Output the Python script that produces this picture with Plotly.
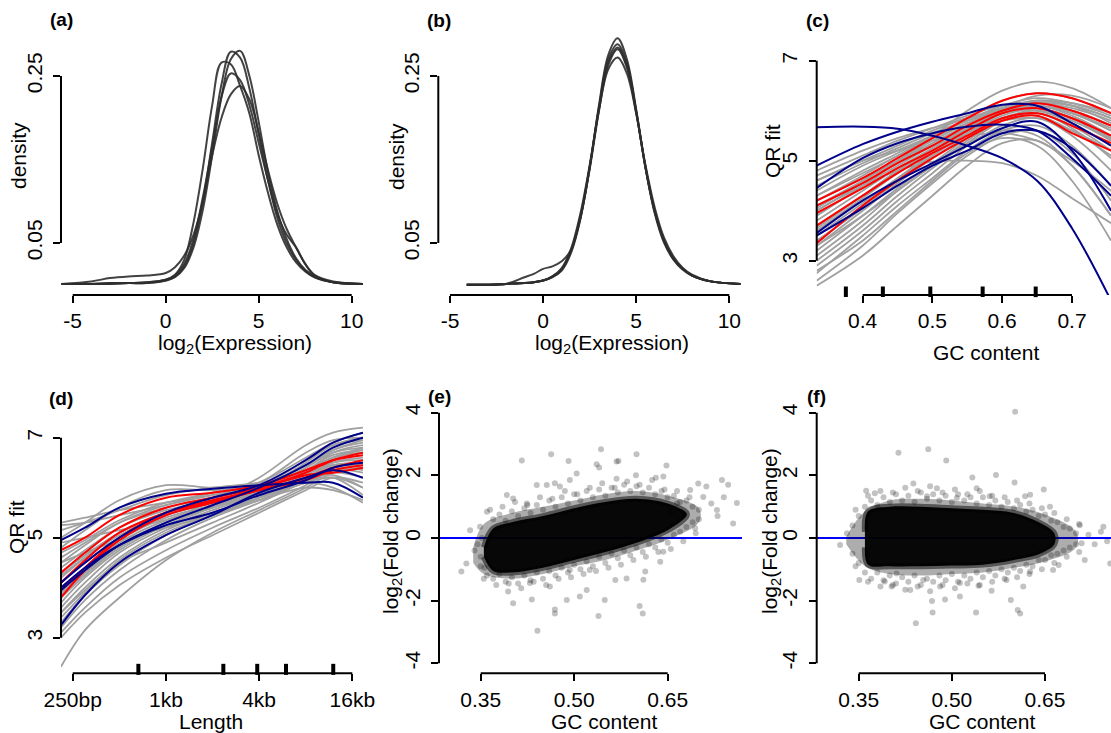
import plotly.graph_objects as go

W, H = 1111, 733
FONT = "Liberation Sans, Arial, Helvetica, sans-serif"


def fx(p):
    return p / W


def fy(p):
    return 1 - p / H


# ---------------- data: (a) raw densities ----------------
expr_x_a = [-5.6, -4, -3, -2, -1, 0, 0.5, 1, 1.5, 2, 2.5, 3, 3.5, 4, 4.5, 5, 5.5, 6, 6.5, 7, 7.5, 8, 9, 10.6]
dens_a = [
    [0.001, 0.001, 0.001, 0.002, 0.002, 0.005, 0.010, 0.022, 0.050, 0.100, 0.170, 0.240, 0.279, 0.272, 0.235, 0.180, 0.125, 0.080, 0.050, 0.030, 0.017, 0.009, 0.003, 0.001],
    [0.001, 0.001, 0.001, 0.002, 0.002, 0.005, 0.009, 0.020, 0.045, 0.090, 0.155, 0.225, 0.270, 0.280, 0.250, 0.195, 0.135, 0.088, 0.055, 0.032, 0.018, 0.010, 0.003, 0.001],
    [0.001, 0.001, 0.002, 0.002, 0.003, 0.006, 0.012, 0.030, 0.075, 0.140, 0.215, 0.266, 0.264, 0.238, 0.205, 0.155, 0.110, 0.072, 0.045, 0.027, 0.016, 0.009, 0.003, 0.001],
    [0.001, 0.001, 0.002, 0.002, 0.003, 0.006, 0.011, 0.025, 0.055, 0.105, 0.165, 0.225, 0.253, 0.245, 0.215, 0.170, 0.125, 0.085, 0.060, 0.045, 0.025, 0.011, 0.003, 0.001],
    [0.001, 0.004, 0.008, 0.010, 0.011, 0.014, 0.021, 0.035, 0.060, 0.100, 0.155, 0.200, 0.228, 0.238, 0.222, 0.183, 0.137, 0.097, 0.067, 0.045, 0.025, 0.012, 0.004, 0.001],
]

# ---------------- data: (b) normalised densities ----------------
expr_x_b = [-4.1, -3, -2, -1, -0.5, 0, 0.5, 1, 1.5, 2, 2.5, 3, 3.5, 4, 4.5, 5, 5.5, 6, 6.5, 7, 7.5, 8, 9, 10.6]
dens_b = [
    [0.0, 0.0, 0.001, 0.002, 0.003, 0.005, 0.009, 0.017, 0.038, 0.078, 0.140, 0.215, 0.275, 0.295, 0.270, 0.210, 0.140, 0.085, 0.050, 0.030, 0.018, 0.011, 0.004, 0.001],
    [0.0, 0.0, 0.001, 0.002, 0.003, 0.005, 0.009, 0.018, 0.040, 0.080, 0.140, 0.212, 0.270, 0.288, 0.265, 0.208, 0.140, 0.087, 0.052, 0.031, 0.019, 0.011, 0.004, 0.001],
    [0.0, 0.0, 0.001, 0.002, 0.003, 0.005, 0.010, 0.019, 0.041, 0.081, 0.141, 0.211, 0.266, 0.284, 0.262, 0.207, 0.141, 0.088, 0.053, 0.032, 0.019, 0.011, 0.004, 0.001],
    [0.0, 0.0, 0.001, 0.002, 0.003, 0.005, 0.010, 0.020, 0.043, 0.085, 0.143, 0.209, 0.258, 0.272, 0.253, 0.205, 0.143, 0.092, 0.056, 0.034, 0.020, 0.012, 0.004, 0.001],
    [0.0, 0.0, 0.001, 0.009, 0.013, 0.019, 0.022, 0.028, 0.042, 0.080, 0.138, 0.208, 0.263, 0.282, 0.260, 0.206, 0.140, 0.087, 0.052, 0.031, 0.019, 0.011, 0.004, 0.001],
]

# ---------------- data: (c) QR fit vs GC content ----------------
gc_x_c = [0.334, 0.40, 0.45, 0.50, 0.55, 0.60, 0.65, 0.70, 0.756]
qr_gray_c = [
    [4.8, 5.2, 5.45, 5.65, 5.85, 6.0, 6.0, 5.8, 5.4],
    [4.7, 5.1, 5.4, 5.65, 5.9, 6.1, 6.15, 6.0, 5.7],
    [4.6, 5.0, 5.3, 5.6, 5.85, 6.05, 6.1, 5.95, 5.6],
    [4.5, 4.95, 5.25, 5.55, 5.8, 6.0, 6.05, 5.85, 5.45],
    [4.4, 4.9, 5.2, 5.5, 5.8, 6.05, 6.15, 6.05, 5.8],
    [4.3, 4.8, 5.15, 5.5, 5.8, 6.1, 6.25, 6.15, 5.9],
    [4.2, 4.7, 5.1, 5.45, 5.75, 6.0, 6.1, 5.9, 5.5],
    [4.1, 4.6, 5.0, 5.4, 5.75, 6.05, 6.2, 6.1, 5.85],
    [4.0, 4.55, 4.95, 5.35, 5.7, 6.0, 6.1, 5.95, 5.6],
    [3.9, 4.5, 4.9, 5.3, 5.65, 5.95, 6.05, 5.85, 5.4],
    [3.8, 4.4, 4.85, 5.25, 5.65, 6.0, 6.2, 6.15, 5.95],
    [3.7, 4.3, 4.8, 5.25, 5.65, 6.05, 6.3, 6.3, 6.05],
    [3.6, 4.25, 4.75, 5.2, 5.6, 5.95, 6.1, 5.95, 5.65],
    [3.5, 4.15, 4.65, 5.1, 5.55, 5.9, 6.05, 5.85, 5.45],
    [3.4, 4.05, 4.6, 5.1, 5.55, 5.95, 6.15, 6.1, 5.85],
    [3.3, 4.0, 4.55, 5.05, 5.5, 5.85, 5.95, 5.7, 5.2],
    [3.2, 3.9, 4.45, 4.95, 5.45, 5.85, 6.0, 5.85, 5.45],
    [3.1, 3.8, 4.4, 4.9, 5.4, 5.8, 5.95, 5.65, 5.05],
    [3.0, 3.7, 4.3, 4.85, 5.35, 5.8, 6.05, 6.0, 5.7],
    [2.9, 3.6, 4.2, 4.75, 5.3, 5.7, 5.85, 5.5, 4.8],
    [2.75, 3.5, 4.1, 4.65, 5.2, 5.6, 5.7, 5.3, 4.5],
    [2.6, 3.3, 3.95, 4.55, 5.1, 5.5, 5.6, 5.15, 4.2],
    [2.5, 3.1, 3.7, 4.3, 4.9, 5.35, 5.4, 4.9, 3.9],
    [4.0, 4.5, 4.8, 4.98, 5.0, 4.95, 4.7, 4.25, 3.75],
    [4.3, 4.75, 5.1, 5.5, 6.0, 6.4, 6.58, 6.45, 6.05],
    [3.9, 4.5, 5.0, 5.45, 5.85, 6.2, 6.35, 6.25, 5.95],
    [4.6, 5.0, 5.2, 5.4, 5.5, 5.55, 5.4, 5.0, 4.4],
    [3.3, 3.9, 4.4, 4.9, 5.35, 5.6, 5.5, 4.9, 3.9],
    [2.8, 3.4, 4.0, 4.6, 5.15, 5.45, 5.3, 4.6, 3.4],
    [4.2, 4.65, 5.0, 5.3, 5.6, 5.8, 5.85, 5.6, 5.2],
    [4.05, 4.6, 5.0, 5.35, 5.7, 5.95, 6.0, 5.75, 5.3],
    [3.65, 4.3, 4.8, 5.2, 5.55, 5.85, 5.9, 5.6, 5.1],
    [3.35, 4.1, 4.65, 5.15, 5.6, 6.0, 6.2, 6.1, 5.75],
]
qr_red_c = [
    [4.2, 4.65, 5.05, 5.45, 5.85, 6.2, 6.35, 6.25, 5.95],
    [4.1, 4.55, 4.95, 5.3, 5.7, 6.0, 6.15, 6.0, 5.7],
    [3.95, 4.45, 4.85, 5.2, 5.6, 5.95, 6.05, 5.85, 5.5],
    [3.7, 4.3, 4.75, 5.15, 5.5, 5.85, 5.95, 5.7, 5.35],
    [3.35, 4.1, 4.6, 5.05, 5.45, 5.8, 5.9, 5.55, 5.2],
]
qr_blue_c = [
    [5.67, 5.68, 5.64, 5.5, 5.3, 5.05, 4.6, 3.65, 2.2],
    [4.9, 5.33, 5.58, 5.78, 5.95, 6.12, 6.1, 5.75, 5.3],
    [4.45, 5.05, 5.35, 5.55, 5.68, 5.72, 5.6, 5.05, 4.3],
    [3.55, 4.2, 4.6, 4.95, 5.3, 5.65, 5.78, 5.2, 4.0],
    [3.5, 4.05, 4.5, 4.9, 5.2, 5.55, 5.6, 5.25, 4.5],
]
gc_rug = [0.376, 0.429, 0.497, 0.572, 0.648]

# ---------------- data: (d) QR fit vs length ----------------
len_x_d = [210, 300, 500, 1000, 2000, 4000, 8000, 12000, 18750]
qr_gray_d = [
    [5.3, 5.4, 5.55, 5.7, 5.85, 6.0, 6.3, 6.6, 6.8],
    [5.25, 5.3, 5.45, 5.65, 5.9, 6.1, 6.6, 6.9, 7.1],
    [5.15, 5.3, 5.55, 5.85, 6.0, 6.1, 6.3, 6.45, 6.4],
    [5.0, 5.3, 5.75, 6.05, 6.0, 6.05, 6.2, 6.25, 6.0],
    [4.8, 5.15, 5.6, 5.95, 5.95, 6.0, 6.15, 6.2, 5.85],
    [4.7, 4.95, 5.35, 5.7, 5.9, 6.1, 6.7, 6.95, 7.0],
    [4.6, 4.9, 5.3, 5.6, 5.8, 6.0, 6.45, 6.75, 6.95],
    [4.5, 4.85, 5.3, 5.65, 5.85, 6.05, 6.35, 6.6, 6.7],
    [4.4, 4.75, 5.2, 5.55, 5.75, 5.95, 6.3, 6.6, 6.75],
    [4.3, 4.65, 5.1, 5.5, 5.75, 6.0, 6.55, 6.85, 6.95],
    [4.2, 4.6, 5.1, 5.5, 5.7, 5.9, 6.25, 6.5, 6.55],
    [4.1, 4.5, 5.0, 5.45, 5.7, 5.95, 6.3, 6.6, 6.7],
    [4.0, 4.4, 4.95, 5.4, 5.65, 5.9, 6.2, 6.45, 6.5],
    [3.9, 4.35, 4.9, 5.35, 5.65, 5.9, 6.4, 6.75, 6.9],
    [3.8, 4.25, 4.8, 5.3, 5.6, 5.85, 6.2, 6.5, 6.6],
    [3.7, 4.2, 4.75, 5.25, 5.6, 5.95, 6.5, 6.85, 7.0],
    [3.6, 4.1, 4.7, 5.2, 5.55, 5.85, 6.2, 6.45, 6.45],
    [3.5, 4.0, 4.6, 5.15, 5.5, 5.8, 6.1, 6.3, 6.2],
    [3.4, 3.9, 4.55, 5.1, 5.45, 5.8, 6.3, 6.7, 6.85],
    [3.3, 3.85, 4.45, 5.05, 5.45, 5.8, 6.15, 6.4, 6.35],
    [3.2, 3.75, 4.35, 4.95, 5.4, 5.75, 6.1, 6.2, 6.0],
    [3.1, 3.6, 4.2, 4.75, 5.2, 5.6, 6.05, 6.35, 6.3],
    [2.42, 3.15, 3.8, 4.55, 5.1, 5.55, 6.0, 6.3, 6.4],
    [3.0, 3.5, 4.05, 4.6, 5.05, 5.5, 5.95, 6.2, 6.1],
    [3.9, 4.3, 4.8, 5.3, 5.75, 6.2, 6.85, 7.1, 7.2],
    [4.9, 5.0, 5.15, 5.35, 5.6, 5.9, 6.1, 6.0, 5.7],
    [4.5, 4.7, 4.95, 5.2, 5.45, 5.75, 6.0, 5.95, 5.75],
    [3.5, 3.95, 4.5, 4.9, 5.3, 5.7, 6.15, 6.55, 6.8],
    [4.25, 4.6, 5.05, 5.45, 5.7, 5.95, 6.4, 6.7, 6.8],
    [3.85, 4.3, 4.85, 5.3, 5.6, 5.9, 6.35, 6.65, 6.75],
]
qr_red_d = [
    [4.75, 5.0, 5.45, 5.8, 5.9, 6.05, 6.35, 6.55, 6.65],
    [4.3, 4.7, 5.2, 5.6, 5.8, 6.0, 6.3, 6.55, 6.7],
    [4.1, 4.55, 5.1, 5.5, 5.75, 5.95, 6.2, 6.4, 6.55],
    [3.8, 4.35, 4.95, 5.45, 5.7, 5.95, 6.15, 6.35, 6.45],
    [3.95, 4.4, 5.0, 5.5, 5.72, 5.98, 6.25, 6.3, 6.4],
]
qr_blue_d = [
    [4.95, 5.2, 5.6, 5.88, 5.98, 6.05, 6.1, 6.1, 5.8],
    [4.1, 4.5, 5.0, 5.5, 5.8, 6.05, 6.55, 6.9, 7.1],
    [3.95, 4.35, 4.85, 5.3, 5.65, 6.0, 6.45, 6.8, 7.0],
    [3.25, 3.85, 4.5, 5.05, 5.45, 5.9, 6.2, 6.35, 6.2],
    [4.0, 4.4, 4.85, 5.25, 5.5, 5.85, 6.15, 6.4, 6.5],
]
len_rug = [664, 2350, 3890, 5970, 12050]

# ---------------- data: (e) fold change before correction ----------------
gc_core_e = [0.355, 0.37, 0.40, 0.45, 0.50, 0.55, 0.60, 0.65, 0.68]
up_core_e = [-0.3, 0.3, 0.5, 0.7, 0.95, 1.15, 1.25, 1.1, 0.8]
lo_core_e = [-0.6, -1.05, -1.1, -0.95, -0.7, -0.45, -0.15, 0.25, 0.7]
gc_halo_e = [0.338, 0.355, 0.40, 0.45, 0.50, 0.55, 0.60, 0.65, 0.70]
up_halo_e = [-0.3, 0.45, 0.8, 1.0, 1.2, 1.4, 1.5, 1.35, 0.95]
lo_halo_e = [-0.8, -1.15, -1.3, -1.15, -0.9, -0.7, -0.4, -0.05, 0.5]
gc_pts_e = [0.416, 0.463, 0.491, 0.543, 0.600, 0.536, 0.540, 0.568, 0.571, 0.648,
            0.504, 0.599, 0.568, 0.631, 0.643, 0.737, 0.747, 0.761, 0.755, 0.729,
            0.707, 0.699, 0.686, 0.712, 0.694, 0.665, 0.360, 0.349, 0.333, 0.319,
            0.327, 0.392, 0.402, 0.424, 0.440, 0.456, 0.469, 0.477, 0.493, 0.394,
            0.402, 0.432, 0.441, 0.469, 0.469, 0.488, 0.509, 0.520, 0.539, 0.566,
            0.584, 0.605, 0.610, 0.611, 0.614, 0.643, 0.638, 0.461, 0.429, 0.493,
            0.525, 0.654, 0.549,
            0.37, 0.38, 0.39, 0.40, 0.41, 0.42, 0.43, 0.44, 0.45, 0.46, 0.47, 0.48,
            0.49, 0.50, 0.51, 0.52, 0.53, 0.54, 0.55, 0.56, 0.57, 0.58, 0.59, 0.60,
            0.61, 0.62, 0.63, 0.64, 0.65, 0.66, 0.67, 0.68, 0.69, 0.70,
            0.35, 0.36, 0.37, 0.38, 0.39, 0.40, 0.41, 0.42, 0.43, 0.44, 0.45, 0.46,
            0.47, 0.48, 0.49, 0.50, 0.51, 0.52, 0.53, 0.54, 0.55, 0.56, 0.57, 0.58,
            0.59, 0.60, 0.61, 0.62, 0.63, 0.64, 0.65, 0.66, 0.67, 0.68, 0.69, 0.70,
            0.340, 0.345, 0.350, 0.352, 0.356, 0.72, 0.73, 0.74,
            0.365, 0.385, 0.405, 0.425, 0.445, 0.465, 0.485, 0.505, 0.525, 0.545,
            0.565, 0.585, 0.605, 0.625, 0.645, 0.665, 0.685,
            0.355, 0.375, 0.395, 0.415, 0.435, 0.455, 0.475, 0.495, 0.515, 0.535,
            0.555, 0.575, 0.595, 0.615, 0.635, 0.655, 0.675, 0.695]
lfc_pts_e = [2.47, 2.67, 2.46, 2.83, 2.67, 2.35, 2.25, 2.44, 2.46, 2.31,
             2.06, 2.0, 1.89, 1.92, 1.96, 1.85, 1.7, 1.12, 0.46, 0.89,
             1.31, 1.74, 1.53, 1.64, 0.31, 1.11, 0.84, 0.36, 0.25, -1.07,
             -0.81, 1.37, 1.26, 1.1, 1.69, 1.69, 1.75, 1.64, 1.85, -1.71,
             -2.08, -1.96, -2.96, -2.28, -2.41, -1.98, -1.87, -1.66, -2.49, -1.34,
             -1.29, -2.17, -2.41, -1.33, -1.07, -0.44, -0.76, -1.55, -1.44, -1.02,
             -1.02, 0.84, -1.98,
             0.6, 0.75, 0.55, 0.85, 0.7, 0.95, 0.8, 1.05, 0.9, 1.2, 1.0, 1.3,
             1.1, 1.4, 1.2, 1.5, 1.3, 1.55, 1.35, 1.6, 1.45, 1.7, 1.5, 1.65,
             1.45, 1.6, 1.4, 1.5, 1.3, 1.35, 1.15, 1.2, 1.0, 0.9,
             -0.9, -1.2, -1.3, -1.15, -1.4, -1.25, -1.45, -1.2, -1.35, -1.1, -1.3, -1.05,
             -1.2, -0.95, -1.1, -0.85, -1.0, -0.75, -0.9, -0.6, -0.8, -0.5, -0.65, -0.4,
             -0.55, -0.3, -0.45, -0.2, -0.3, -0.05, -0.15, 0.1, 0.2, 0.35, 0.5, 0.6,
             -0.4, -0.2, -0.6, 0.0, -0.95, 1.1, 0.7, 1.3,
             0.9, 1.0, 1.15, 1.05, 1.3, 1.25, 1.5, 1.4, 1.6, 1.75,
             1.6, 1.8, 1.7, 1.85, 1.55, 1.5, 1.3,
             -1.3, -1.5, -1.45, -1.6, -1.4, -1.5, -1.3, -1.25, -1.15, -1.05,
             -0.95, -0.85, -0.7, -0.6, -0.45, -0.35, -0.1, 0.15]

# ---------------- data: (f) fold change after correction ----------------
gc_core_f = [0.36, 0.365, 0.40, 0.45, 0.50, 0.55, 0.60, 0.64, 0.665]
up_core_f = [0.2, 0.85, 1.0, 1.0, 0.95, 0.9, 0.8, 0.5, 0.15]
lo_core_f = [-0.3, -0.85, -0.9, -0.9, -0.88, -0.85, -0.7, -0.52, -0.2]
gc_halo_f = [0.33, 0.36, 0.40, 0.45, 0.50, 0.55, 0.60, 0.65, 0.70]
up_halo_f = [0.05, 0.85, 1.2, 1.25, 1.2, 1.1, 1.0, 0.75, 0.2]
lo_halo_f = [-0.2, -0.9, -1.15, -1.2, -1.15, -1.1, -0.95, -0.75, -0.3]
gc_pts_f = [0.602, 0.414, 0.462, 0.491, 0.571, 0.533, 0.601, 0.648, 0.540, 0.362,
            0.438, 0.476, 0.460, 0.508, 0.376, 0.561, 0.618, 0.626, 0.658, 0.706,
            0.755, 0.744, 0.714, 0.709, 0.320, 0.331, 0.351, 0.392, 0.403, 0.433,
            0.468, 0.469, 0.442, 0.489, 0.513, 0.539, 0.543, 0.564, 0.588, 0.595,
            0.606, 0.610, 0.615, 0.626, 0.513, 0.481, 0.454, 0.663, 0.672, 0.411,
            0.34, 0.35, 0.36, 0.37, 0.38, 0.39, 0.40, 0.41, 0.42, 0.43, 0.44, 0.45,
            0.46, 0.47, 0.48, 0.49, 0.50, 0.51, 0.52, 0.53, 0.54, 0.55, 0.56, 0.57,
            0.58, 0.59, 0.60, 0.61, 0.62, 0.63, 0.64, 0.65, 0.66, 0.67, 0.68, 0.69, 0.70,
            0.34, 0.35, 0.36, 0.37, 0.38, 0.39, 0.40, 0.41, 0.42, 0.43, 0.44, 0.45,
            0.46, 0.47, 0.48, 0.49, 0.50, 0.51, 0.52, 0.53, 0.54, 0.55, 0.56, 0.57,
            0.58, 0.59, 0.60, 0.61, 0.62, 0.63, 0.64, 0.65, 0.66, 0.67, 0.68, 0.69, 0.70,
            0.72, 0.73, 0.74, 0.75,
            0.345, 0.365, 0.385, 0.405, 0.425, 0.445, 0.465, 0.485, 0.505, 0.525,
            0.545, 0.565, 0.585, 0.605, 0.625, 0.645, 0.665, 0.685, 0.705,
            0.345, 0.365, 0.385, 0.405, 0.425, 0.445, 0.465, 0.485, 0.505, 0.525,
            0.545, 0.565, 0.585, 0.605, 0.625, 0.645, 0.665, 0.685, 0.705]
lfc_pts_f = [4.03, 2.72, 2.83, 2.47, 2.01, 1.93, 1.77, 1.55, 1.59, 1.51,
             1.74, 1.59, 1.33, 1.28, 1.43, 1.33, 1.33, 1.38, 1.0, 0.41,
             -0.81, 0.36, -0.7, -0.17, -0.22, 0.15, -1.34, -1.39, -1.55, -1.66,
             -2.01, -2.38, -2.72, -1.96, -1.87, -2.38, -1.52, -1.68, -1.34, -1.98,
             -2.3, -2.41, -1.55, -1.07, -1.44, -1.55, -1.34, -1.02, -0.86, -1.13,
             0.4, 0.7, 1.0, 1.2, 1.05, 1.3, 1.15, 1.4, 1.2, 1.35, 1.15, 1.45,
             1.25, 1.4, 1.2, 1.35, 1.15, 1.4, 1.2, 1.3, 1.1, 1.3, 1.05, 1.2,
             1.0, 1.15, 0.95, 1.05, 0.85, 0.9, 0.7, 0.75, 0.55, 0.5, 0.35, 0.3, 0.15,
             -0.5, -0.8, -1.1, -1.3, -1.1, -1.35, -1.2, -1.45, -1.25, -1.4, -1.2, -1.5,
             -1.3, -1.4, -1.2, -1.35, -1.15, -1.4, -1.2, -1.3, -1.1, -1.25, -1.05, -1.2,
             -1.0, -1.1, -0.95, -1.05, -0.85, -0.9, -0.7, -0.7, -0.55, -0.5, -0.4, -0.3, -0.2,
             0.1, -0.2, 0.2, -0.1,
             0.9, 1.35, 1.5, 1.45, 1.6, 1.5, 1.65, 1.45, 1.55, 1.4,
             1.5, 1.35, 1.3, 1.2, 1.1, 0.95, 0.8, 0.6, 0.45,
             -0.9, -1.4, -1.55, -1.5, -1.65, -1.55, -1.7, -1.5, -1.6, -1.45,
             -1.5, -1.4, -1.3, -1.25, -1.15, -1.0, -0.8, -0.6, -0.45]

# ---------------- figure ----------------
fig = go.Figure()
DENS_COL = "rgba(45,45,45,0.9)"
GRAY = "#a0a0a0"
RED = "#ff0000"
NAVY = "#00008b"


def add_lines(xs, ys_list, color, width, xa, ya):
    for ys in ys_list:
        fig.add_trace(go.Scatter(x=xs, y=ys, mode="lines",
                                 line=dict(color=color, width=width, shape="spline", smoothing=1.0),
                                 xaxis=xa, yaxis=ya, showlegend=False, hoverinfo="skip"))


add_lines(expr_x_a, dens_a, DENS_COL, 2, "x", "y")
add_lines(expr_x_b, dens_b, DENS_COL, 2, "x2", "y2")
add_lines(gc_x_c, qr_gray_c, GRAY, 1.8, "x3", "y3")
add_lines(gc_x_c, qr_red_c, RED, 2, "x3", "y3")
add_lines(gc_x_c, qr_blue_c, NAVY, 2, "x3", "y3")
add_lines(len_x_d, qr_gray_d, GRAY, 1.8, "x4", "y4")
add_lines(len_x_d, qr_red_d, RED, 2, "x4", "y4")
add_lines(len_x_d, qr_blue_d, NAVY, 2, "x4", "y4")


def add_cloud(gc_h, up_h, lo_h, gc_c, up_c, lo_c, gc_p, lfc_p, xa, ya):
    fig.add_trace(go.Scatter(x=gc_h + gc_h[::-1], y=up_h + lo_h[::-1], mode="lines", fill="toself",
                             fillcolor="rgba(0,0,0,0.32)", line=dict(width=0, shape="spline"),
                             xaxis=xa, yaxis=ya, showlegend=False, hoverinfo="skip"))
    fig.add_trace(go.Scatter(x=gc_c + gc_c[::-1], y=up_c + lo_c[::-1], mode="lines", fill="toself",
                             fillcolor="rgba(0,0,0,0.96)",
                             line=dict(width=6, color="rgba(0,0,0,0.5)", shape="spline"),
                             xaxis=xa, yaxis=ya, showlegend=False, hoverinfo="skip"))
    fig.add_trace(go.Scatter(x=gc_p, y=lfc_p, mode="markers",
                             marker=dict(size=6, color="rgba(0,0,0,0.24)", line=dict(width=0)),
                             xaxis=xa, yaxis=ya, showlegend=False, hoverinfo="skip"))


add_cloud(gc_halo_e, up_halo_e, lo_halo_e, gc_core_e, up_core_e, lo_core_e, gc_pts_e, lfc_pts_e, "x5", "y5")
add_cloud(gc_halo_f, up_halo_f, lo_halo_f, gc_core_f, up_core_f, lo_core_f, gc_pts_f, lfc_pts_f, "x6", "y6")

TICKFONT = dict(family=FONT, size=21, color="black")


def xax(px0, px1, rng, tv, tt, anchor, typ="linear"):
    return dict(domain=[fx(px0), fx(px1)], range=rng, type=typ, tickvals=tv, ticktext=tt, anchor=anchor,
                showgrid=False, zeroline=False, showline=False, ticks="outside", ticklen=7,
                tickwidth=2, tickcolor="black", tickfont=TICKFONT, fixedrange=True, automargin=False)


def yax(py0, py1, rng, tv, tt, anchor):
    return dict(domain=[fy(py1), fy(py0)], range=rng, tickvals=tv, ticktext=tt, anchor=anchor,
                showgrid=False, zeroline=False, showline=False, ticks="outside", ticklen=7,
                tickwidth=2, tickcolor="black", tickfont=TICKFONT, tickangle=-90, fixedrange=True,
                automargin=False, ticklabelstandoff=3)


dens_ticks = [0.05, 0.25]
expr_ticks = [-5, 0, 5, 10]
gc_ticks_c = [0.4, 0.5, 0.6, 0.7]
qr_ticks = [3, 5, 7]
len_ticks = [250, 1000, 4000, 16000]
len_labels = ["250bp", "1kb", "4kb", "16kb"]
gc_ticks_ef = [0.35, 0.50, 0.65]
lfc_ticks = [-4, -2, 0, 2, 4]

fig.update_layout(
    width=W, height=H, margin=dict(l=0, r=0, t=0, b=0, autoexpand=False),
    paper_bgcolor="white", plot_bgcolor="white", showlegend=False,
    font=dict(family=FONT, size=21, color="black"),
    xaxis=xax(61, 365, [-5.629, 10.715], expr_ticks, [str(v) for v in expr_ticks], "y"),
    yaxis=yax(30, 295, [-0.0123, 0.305], dens_ticks, ["0.05", "0.25"], "x"),
    xaxis2=xax(438.3, 742, [-5.628, 10.682], expr_ticks, [str(v) for v in expr_ticks], "y2"),
    yaxis2=yax(30, 295, [-0.0123, 0.305], dens_ticks, ["0.05", "0.25"], "x2"),
    xaxis3=xax(816.7, 1111, [0.3342, 0.7559], gc_ticks_c, ["0.4", "0.5", "0.6", "0.7"], "y3"),
    yaxis3=yax(30, 295, [2.314, 7.614], qr_ticks, ["3", "5", "7"], "x3"),
    xaxis4=xax(61, 363, [2.32236, 4.27324], len_ticks, len_labels, "y4", typ="log"),
    yaxis4=yax(410, 673.3, [2.288, 7.554], qr_ticks, ["3", "5", "7"], "x4"),
    xaxis5=xax(439, 742, [0.2831, 0.7692], gc_ticks_ef, ["0.35", "0.50", "0.65"], "y5"),
    yaxis5=yax(402.7, 673.3, [-4.318, 4.318], lfc_ticks, [str(v) for v in lfc_ticks], "x5"),
    xaxis6=xax(816.7, 1111, [0.28237, 0.75628], gc_ticks_ef, ["0.35", "0.50", "0.65"], "y6"),
    yaxis6=yax(402.7, 673.3, [-4.318, 4.318], lfc_ticks, [str(v) for v in lfc_ticks], "x6"),
)

LINE = dict(color="black", width=2)
shapes = []


def axis_lines(xa, ya, xt, yt):
    shapes.append(dict(type="line", xref=xa, yref=ya + " domain", x0=xt[0], x1=xt[-1], y0=0, y1=0, line=LINE))
    shapes.append(dict(type="line", xref=xa + " domain", yref=ya, x0=0, x1=0, y0=yt[0], y1=yt[-1], line=LINE))


axis_lines("x", "y", expr_ticks, dens_ticks)
axis_lines("x2", "y2", expr_ticks, dens_ticks)
axis_lines("x3", "y3", gc_ticks_c, qr_ticks)
axis_lines("x4", "y4", len_ticks, qr_ticks)
axis_lines("x5", "y5", gc_ticks_ef, lfc_ticks)
axis_lines("x6", "y6", gc_ticks_ef, lfc_ticks)

# rug marks (quantiles)
for v in gc_rug:
    shapes.append(dict(type="line", xref="x3", yref="y3 domain", x0=v, x1=v, y0=-0.008, y1=0.032,
                       line=dict(color="black", width=4)))
for v in len_rug:
    shapes.append(dict(type="line", xref="x4", yref="y4 domain", x0=v, x1=v, y0=-0.006, y1=0.036,
                       line=dict(color="black", width=4)))
# zero reference lines
for xa, ya in (("x5", "y5"), ("x6", "y6")):
    shapes.append(dict(type="line", xref=xa + " domain", yref=ya, x0=0, x1=1, y0=0, y1=0,
                       line=dict(color="#0000ff", width=2), layer="below"))
fig.update_layout(shapes=shapes)

ann = []


def text(x, y, s, size=21, angle=0, bold=False):
    ann.append(dict(x=fx(x), y=fy(y), xref="paper", yref="paper", text=("<b>%s</b>" % s) if bold else s,
                    showarrow=False, xanchor="center", yanchor="middle", textangle=angle,
                    font=dict(family=FONT, size=size, color="black")))


for lab, x, y in (("(a)", 61, 20), ("(b)", 439, 21), ("(c)", 817, 21),
                  ("(d)", 61, 398), ("(e)", 439, 396), ("(f)", 816, 396)):
    text(x, y, lab, size=19, bold=True)

text(235, 344, "log<sub>2</sub>(Expression)")
text(611.5, 344, "log<sub>2</sub>(Expression)")
text(985.5, 352, "GC content")
text(211, 721, "Length")
text(603.5, 721, "GC content")
text(981.7, 721, "GC content")
text(19, 156, "density", angle=-90)
text(396, 157, "density", angle=-90)
text(772, 151, "QR fit", angle=-90)
text(16, 527, "QR fit", angle=-90)
text(392, 531, "log<sub>2</sub>(Fold change)", angle=-90)
text(771, 531, "log<sub>2</sub>(Fold change)", angle=-90)
fig.update_layout(annotations=ann)

fig.write_html("out.html")
